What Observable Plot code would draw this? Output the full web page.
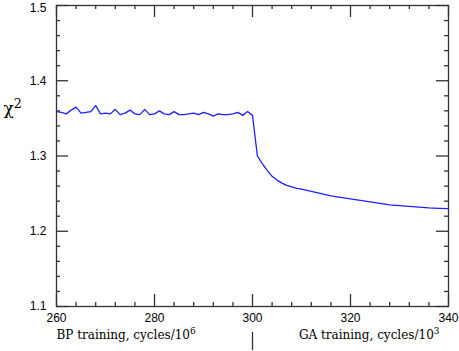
<!DOCTYPE html>
<html><head><meta charset="utf-8">
<script src="https://cdn.jsdelivr.net/npm/d3@7"></script>
<script src="https://cdn.jsdelivr.net/npm/@observablehq/plot@0.6"></script>
<style>body{margin:0;background:#fff}</style>
</head><body><div id="chart"></div>
<script>
// BP training phase (cycles/10^6)
const bpCycles = [260,261,262,263,264,265,266,267,268,269,270,271,272,273,274,275,276,277,278,279,280,281,282,283,284,285,286,287,288,289,290,291,292,293,294,295,296,297,298,299,300];
const bpChi2 = [1.359,1.358,1.356,1.361,1.365,1.357,1.358,1.359,1.367,1.356,1.357,1.356,1.362,1.355,1.357,1.361,1.356,1.355,1.362,1.355,1.356,1.360,1.356,1.355,1.359,1.355,1.355,1.356,1.357,1.355,1.358,1.356,1.353,1.356,1.355,1.355,1.356,1.358,1.354,1.359,1.354];
// GA training phase (axis continues, cycles/10^3)
const gaCycles = [301,302,303,304,305,306,307,308,309,310,312,314,316,318,320,322,324,326,328,330,332,334,336,338,340];
const gaChi2 = [1.300,1.290,1.281,1.273,1.268,1.264,1.261,1.259,1.257,1.256,1.253,1.250,1.247,1.245,1.243,1.241,1.239,1.237,1.235,1.234,1.233,1.232,1.231,1.2305,1.230];

const xMajor = [260,280,300,320,340];
const xMinor = [264,268,272,276,284,288,292,296,304,308,312,316,324,328,332,336];
const yMajor = [1.1,1.2,1.3,1.4];
const yTop = [1.5];
const yMinor = [1.12,1.14,1.16,1.18,1.22,1.24,1.26,1.28,1.32,1.34,1.36,1.38,1.42,1.44,1.46,1.48];
const yTitle = ["χ", "2"];
const bpLabel = ["BP training, cycles/10", "6"];
const gaLabel = ["GA training, cycles/10", "3"];
const splitAt = [300];

const data = bpCycles.map((c,i)=>({x:c,y:bpChi2[i]}))
  .concat(gaCycles.map((c,i)=>({x:c,y:gaChi2[i]})));

const W = 459, H = 351, mt = 5, mr = 11, mb = 45, ml = 56;
const pw = W - ml - mr, ph = H - mt - mb;
const ax = "#333";
const tickFont = {fontFamily: "Liberation Sans, Arial, sans-serif", fontSize: 12, fill: "#000"};
const serif = "DejaVu Serif, serif";
const allY = yMajor.concat(yTop);

const chart = Plot.plot({
  width: W, height: H,
  marginTop: mt, marginRight: mr, marginBottom: mb, marginLeft: ml,
  style: {background: "#fff", fontFamily: "Liberation Sans, Arial, sans-serif"},
  x: {domain: [260, 340]},
  y: {domain: [1.1, 1.5]},
  marks: [
    Plot.tickX(xMajor, {x: d=>d, insetTop: ph-12, stroke: ax, strokeWidth: 1.3}),
    Plot.tickX(xMajor, {x: d=>d, insetBottom: ph-12, stroke: ax, strokeWidth: 1.3}),
    Plot.tickX(xMinor, {x: d=>d, insetTop: ph-4, stroke: ax, strokeWidth: 1.3}),
    Plot.tickX(xMinor, {x: d=>d, insetBottom: ph-4, stroke: ax, strokeWidth: 1.3}),
    Plot.tickY(allY, {y: d=>d, insetRight: pw-12, stroke: ax, strokeWidth: 1.3}),
    Plot.tickY(allY, {y: d=>d, insetLeft: pw-12, stroke: ax, strokeWidth: 1.3}),
    Plot.tickY(yMinor, {y: d=>d, insetRight: pw-4, stroke: ax, strokeWidth: 1.3}),
    Plot.tickY(yMinor, {y: d=>d, insetLeft: pw-4, stroke: ax, strokeWidth: 1.3}),
    Plot.axisX({ticks: xMajor, tickSize: 0, tickPadding: 7, label: null, ...tickFont}),
    Plot.axisY({ticks: yMajor, tickSize: 0, tickPadding: 10, label: null, tickFormat: d3.format(".1f"), ...tickFont}),
    Plot.axisY({ticks: yTop, tickSize: 0, tickPadding: 10, label: null, dy: 3, tickFormat: d3.format(".1f"), ...tickFont}),
    Plot.frame({stroke: ax, strokeWidth: 1.3}),
    Plot.line(data, {x: "x", y: "y", stroke: "#1f1fff", strokeWidth: 1.3}),
    Plot.tickX(splitAt, {x: d=>d, insetTop: ph-18, dy: 44, stroke: ax, strokeWidth: 1.3}),
    Plot.text([bpLabel], {text: d=>d[0], frameAnchor: "bottom-left", textAnchor: "start", dy: 32, fontFamily: serif, fontSize: 12, fill: "#000", className: "sup-label"}),
    Plot.text([gaLabel], {text: d=>d[0], frameAnchor: "bottom-right", textAnchor: "end", dx: -9, dy: 32, fontFamily: serif, fontSize: 12, fill: "#000", className: "sup-label"}),
    Plot.text([yTitle], {text: d=>d[0], frameAnchor: "top-left", textAnchor: "start", dx: -53, dy: 96, fontFamily: serif, fontSize: 17, fill: "#000", className: "sup-label"})
  ]
});
// add superscripts as tspans
const sups = {[bpLabel[0]]: bpLabel[1], [gaLabel[0]]: gaLabel[1], [yTitle[0]]: yTitle[1]};
d3.select(chart).selectAll("g.sup-label text").each(function(){
  const s = sups[this.textContent];
  if (s) d3.select(this).append("tspan").attr("dy", "-0.45em").attr("font-size", "0.75em").text(s);
});
document.getElementById("chart").appendChild(chart);
</script>
</body></html>
